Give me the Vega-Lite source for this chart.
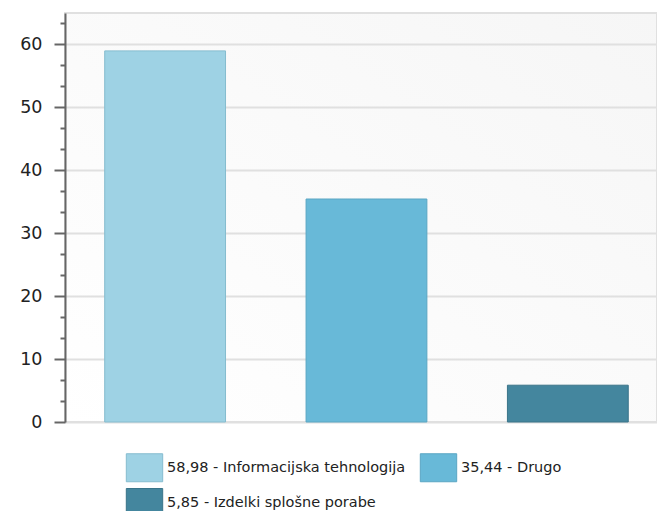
{
  "$schema": "https://vega.github.io/schema/vega-lite/v6.json",
  "width": 592,
  "height": 409,
  "autosize": {"type": "none"},
  "padding": {"left": 65, "top": 13, "right": 0, "bottom": 89},
  "background": "#ffffff",
  "config": {
    "view": {"stroke": "#e0e0e0", "strokeWidth": 2, "fill": {"gradient": "linear", "x1": 0, "y1": 1, "x2": 1, "y2": 0, "stops": [{"offset": 0, "color": "#ffffff"}, {"offset": 1, "color": "#f6f6f6"}]}},
    "font": "DejaVu Sans"
  },
  "data": {
    "values": [
      {"kategorija": "Informacijska tehnologija", "vrednost": 58.98, "oznaka": "58,98 - Informacijska tehnologija"},
      {"kategorija": "Drugo", "vrednost": 35.44, "oznaka": "35,44 - Drugo"},
      {"kategorija": "Izdelki splošne porabe", "vrednost": 5.85, "oznaka": "5,85 - Izdelki splošne porabe"}
    ]
  },
  "resolve": {"axis": {"y": "independent"}},
  "layer": [
    {
      "mark": {"type": "bar", "strokeWidth": 1},
      "encoding": {
        "x": {
          "field": "kategorija",
          "type": "nominal",
          "sort": null,
          "axis": null,
          "scale": {"paddingInner": 0.4, "paddingOuter": 0.17, "align": 0.58}
        },
        "y": {
          "field": "vrednost",
          "type": "quantitative",
          "scale": {"domain": [0, 65], "nice": false},
          "axis": {
            "title": null,
            "orient": "left",
            "values": [0, 10, 20, 30, 40, 50, 60],
            "grid": true,
            "gridColor": "#e0e0e0",
            "gridWidth": 2,
            "domainColor": "#666666",
            "domainWidth": 2,
            "tickColor": "#666666",
            "tickWidth": 2,
            "tickSize": 11,
            "labelPadding": 12,
            "labelFontSize": 17.5,
            "labelColor": "#222222",
            "labelFont": "DejaVu Sans"
          }
        },
        "fill": {
          "field": "oznaka",
          "type": "nominal",
          "sort": null,
          "scale": {"range": ["#9ed2e4", "#68b9d8", "#44869e"]},
          "legend": {
            "title": null,
            "orient": "none",
            "legendX": 65,
            "legendY": 440,
            "direction": "horizontal",
            "columns": 2,
            "columnPadding": 12,
            "rowPadding": 2,
            "padding": 0,
            "symbolType": "M-1.3,-1H1.3V1H-1.3Z",
            "symbolSize": 784,
            "symbolStrokeWidth": 1,
            "symbolOpacity": 1,
            "labelFontSize": 14.5,
            "labelColor": "#222222",
            "labelOffset": 8,
            "labelFont": "DejaVu Sans",
            "labelLimit": 400
          }
        },
        "stroke": {
          "field": "oznaka",
          "type": "nominal",
          "sort": null,
          "scale": {"range": ["#86bccf", "#5aa6c3", "#3a7489"]},
          "legend": null
        }
      }
    },
    {
      "mark": {"type": "bar", "opacity": 0},
      "encoding": {
        "x": {"field": "kategorija", "type": "nominal", "sort": null, "axis": null},
        "y": {
          "field": "vrednost",
          "type": "quantitative",
          "axis": {
            "title": null,
            "orient": "left",
            "values": [3.333, 6.667, 13.333, 16.667, 23.333, 26.667, 33.333, 36.667, 43.333, 46.667, 53.333, 56.667, 63.333],
            "labels": false,
            "grid": false,
            "domain": false,
            "tickColor": "#666666",
            "tickWidth": 2,
            "tickSize": 5
          }
        }
      }
    }
  ]
}
